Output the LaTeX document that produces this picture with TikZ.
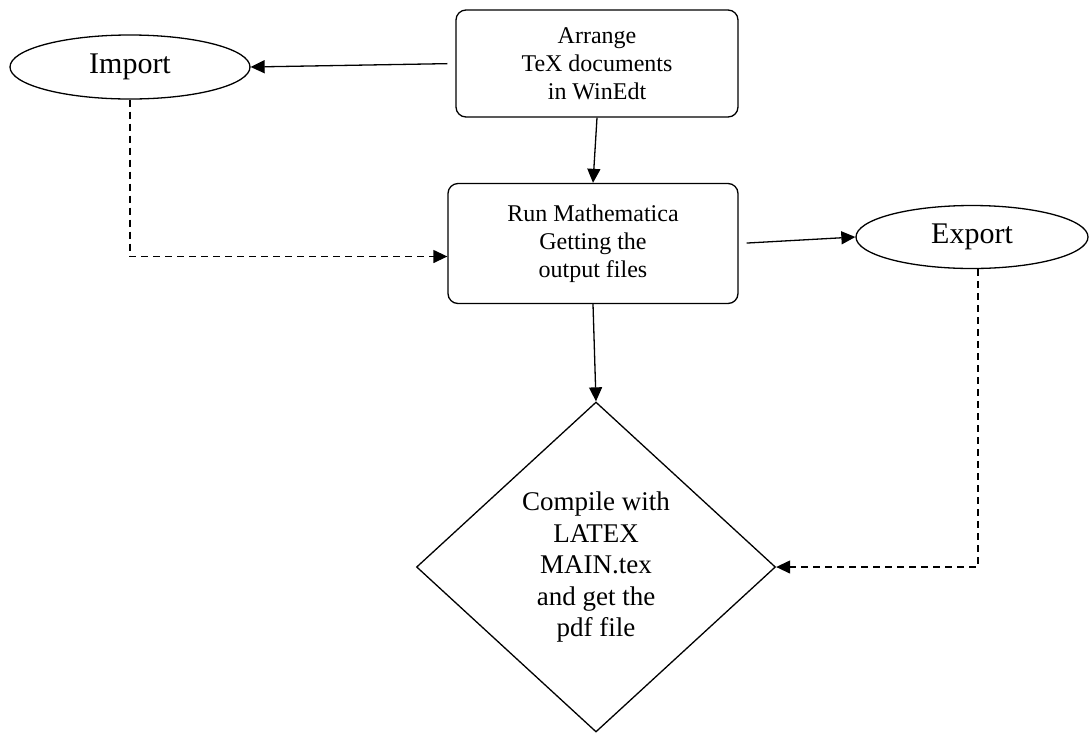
\documentclass[tikz,border=0pt]{standalone}
\usepackage{fontspec}
\setmainfont{Liberation Serif}
\usetikzlibrary{positioning,arrows.meta,shapes.geometric}

\begin{document}
\begin{tikzpicture}[
  x=1pt, y=-1pt,
  line width=1.3pt,
  box/.style={draw,rounded corners=10pt,align=center,inner sep=2pt,font=\fontsize{24}{28}\selectfont},
  oval/.style={draw,ellipse,inner sep=0pt,font=\fontsize{30}{34}\selectfont},
  decide/.style={draw,diamond,inner sep=0pt,align=center,font=\fontsize{27}{31.5}\selectfont},
  ar/.style={-{Triangle[length=14pt,width=13pt]}},
  dash ar/.style={ar,dash pattern=on 7pt off 5pt}
]
\useasboundingbox (0,0) rectangle (1090,732);
\node[box,minimum width=282pt,minimum height=107pt] (arrange) at (597,63.5) {Arrange\\TeX documents\\in WinEdt};
\node[box,minimum width=290pt,minimum height=120pt] (run) at (593,243.5) {Run Mathematica\\Getting the\\output files};
\node[oval,minimum width=240pt,minimum height=64pt] (import) at (130,67) {Import};
\node[oval,minimum width=232pt,minimum height=63pt] (export) at (972,237) {Export};
\node[decide,minimum width=359pt,minimum height=330pt] (compile) at (596,567) {Compile with\\LATEX\\MAIN.tex\\and get the\\pdf file};
\draw[ar,shorten <=8pt] (arrange.west) -- (import.east);
\draw[ar] (arrange.south) -- (run.north);
\draw[ar,shorten <=8pt] (run.east) -- (export.west);
\draw[ar] (run.south) -- (compile.north);
\draw[dash ar] (import.south) |- ([yshift=-13pt]run.west);
\draw[dash ar] ([xshift=6pt]export.south) |- (compile.east);
\end{tikzpicture}
\end{document}
